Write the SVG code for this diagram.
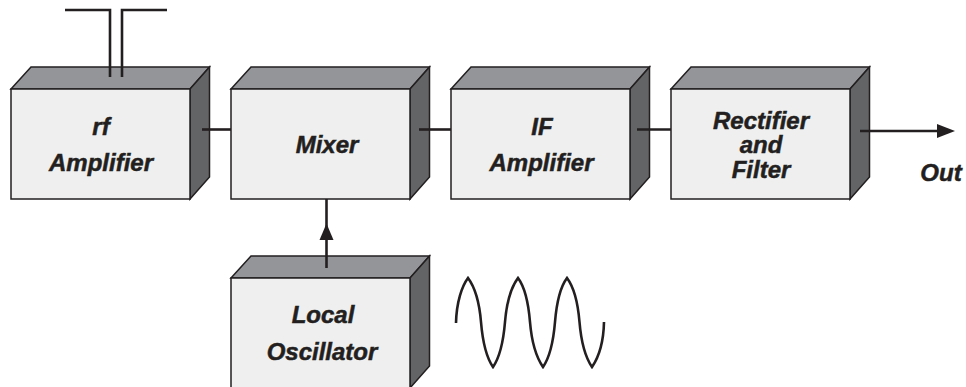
<svg xmlns="http://www.w3.org/2000/svg" xmlns:xlink="http://www.w3.org/1999/xlink" width="966" height="387" viewBox="0 0 966 387">
<style>
.front{fill:#efefef;stroke:#231f20;stroke-width:1.5;stroke-linejoin:miter}
.top{fill:#939598;stroke:#231f20;stroke-width:1.5}
.side{fill:#636466;stroke:#231f20;stroke-width:1.5}
.w{fill:none;stroke:#231f20;stroke-width:2.6}
.t{font-family:"Liberation Sans",Arial,sans-serif;font-weight:bold;font-style:italic;font-size:24px;fill:#231f20;stroke:#231f20;stroke-width:.5;text-anchor:middle}
</style>
<defs>
<g id="box">
<path class="top" d="M0 22L20 0H198.500L179 22Z"/>
<path class="side" d="M179 22L198.500 0V110L179 132Z"/>
<rect class="front" x="0" y="22" width="179" height="110"/>
</g>
</defs>
<rect width="966" height="387" fill="#fff"/>
<g id="rf-amplifier"><use xlink:href="#box" href="#box" x="11" y="67"/>
<text class="t" x="101" y="135">rf</text><text class="t" x="101" y="171">Amplifier</text></g>
<g id="mixer"><use xlink:href="#box" href="#box" x="231" y="67"/>
<text class="t" x="327" y="153">Mixer</text></g>
<g id="if-amplifier"><use xlink:href="#box" href="#box" x="451" y="67"/>
<text class="t" x="542" y="135">IF</text><text class="t" x="541.500" y="171">Amplifier</text></g>
<g id="rectifier-filter"><use xlink:href="#box" href="#box" x="671" y="67"/>
<text class="t" x="761" y="129">Rectifier</text><text class="t" x="761" y="153">and</text><text class="t" x="761" y="178">Filter</text></g>
<g id="local-oscillator"><use xlink:href="#box" href="#box" x="231" y="256"/>
<text class="t" x="323" y="323">Local</text><text class="t" x="322" y="360">Oscillator</text></g>
<g id="connectors">
<path class="w" d="M65 10H110V77M167 10H122V77"/>
<path class="w" d="M202 129.500H231"/>
<path class="w" d="M419 129.500H451"/>
<path class="w" d="M637 129.500H671"/>
<path class="w" d="M860 131H940"/>
<path d="M937 124L955 131L937 138Z" fill="#231f20"/>
<path class="w" d="M326.500 199V268"/>
<path d="M319.500 240L326.500 223.500L333.500 240Z" fill="#231f20"/>
</g>
<g id="waveform">
<path class="w" d="M456 323C456.500 302 462 286 468 278C474 286 479 298 481 322C483 346 487.500 359 493 367C498.500 359 503 346 505 322C507 298 512 286 518 278C524 286 528 298 530 322C532 346 537.500 359 543 367C548.500 359 553 346 555 322C557 298 561 286 567 278C573 286 577.500 298 579.500 322C581.500 346 586.500 359 592 367C597.500 359 603.500 344 604 322"/>
</g>
<text class="t" x="941" y="180.500">Out</text>
</svg>
